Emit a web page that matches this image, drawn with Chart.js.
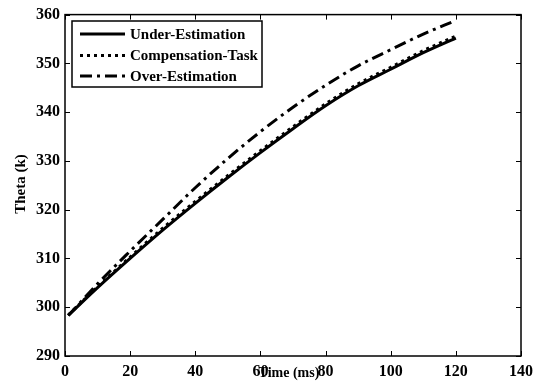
<!DOCTYPE html>
<html>
<head>
<meta charset="utf-8">
<script src="https://cdn.jsdelivr.net/npm/chart.js@4.4.1/dist/chart.umd.min.js"></script>
<style>
  html, body { margin: 0; padding: 0; background: #fff; }
  #wrap { width: 539px; height: 385px; position: relative; }
</style>
</head>
<body>
<div id="wrap"><canvas id="chart"></canvas></div>
<script>
// Données
const timeMs = [1, 10, 20, 30, 40, 50, 60, 70, 80, 90, 100, 110, 120];
const underEst = [298.3, 304.0, 310.0, 315.8, 321.3, 326.6, 331.7, 336.6, 341.3, 345.4, 348.8, 352.2, 355.2];
const compTask = [298.4, 304.2, 310.3, 316.2, 321.7, 327.0, 332.1, 337.0, 341.7, 345.8, 349.2, 352.6, 355.6];
const overEst  = [298.3, 304.8, 311.5, 318.0, 324.5, 330.5, 336.0, 341.0, 345.5, 349.5, 352.8, 356.0, 358.8];
const xTicks = [0, 20, 40, 60, 80, 100, 120, 140];
const yTicks = [290, 300, 310, 320, 330, 340, 350, 360];
const seriesNames = ['Under-Estimation', 'Compensation-Task', 'Over-Estimation'];

const FONT = 'Liberation Serif';

function toPoints(ys) {
    return timeMs.map((t, i) => ({ x: t, y: ys[i] }));
}

// Cadre, graduations intérieures, titres d'axes et légende façon MATLAB
const matlabFrame = {
    id: 'matlabFrame',
    afterDraw(chart) {
        const { ctx, chartArea: a, scales } = chart;
        const xs = scales.x, ys = scales.y;
        ctx.save();
        ctx.strokeStyle = '#000';
        ctx.lineWidth = 1.5;
        ctx.strokeRect(a.left, a.top, a.right - a.left, a.bottom - a.top);

        const tl = 5;
        ctx.lineWidth = 1;
        ctx.beginPath();
        xTicks.forEach(v => {
            const px = Math.round(xs.getPixelForValue(v)) + 0.5;
            ctx.moveTo(px, a.bottom); ctx.lineTo(px, a.bottom - tl);
            ctx.moveTo(px, a.top); ctx.lineTo(px, a.top + tl);
        });
        yTicks.forEach(v => {
            const py = Math.round(ys.getPixelForValue(v)) + 0.5;
            ctx.moveTo(a.left, py); ctx.lineTo(a.left + tl, py);
            ctx.moveTo(a.right, py); ctx.lineTo(a.right - tl, py);
        });
        ctx.stroke();

        // Titres des axes
        ctx.fillStyle = '#000';
        ctx.font = 'bold 14px "' + FONT + '"';
        ctx.textAlign = 'center';
        ctx.textBaseline = 'middle';
        ctx.fillText('Time (ms)', 289, 373);
        ctx.save();
        ctx.translate(21, 184);
        ctx.rotate(-Math.PI / 2);
        ctx.font = 'bold 15px "' + FONT + '"';
        ctx.fillText('Theta (k)', 0, 0);
        ctx.restore();

        // Légende encadrée en haut à gauche
        const bx = 72, by = 21, bw = 190, bh = 66;
        ctx.fillStyle = '#fff';
        ctx.fillRect(bx, by, bw, bh);
        ctx.lineWidth = 1.5;
        ctx.strokeRect(bx, by, bw, bh);
        const rows = [34, 55.5, 76];
        ctx.font = 'bold 15px "' + FONT + '"';
        ctx.textAlign = 'left';
        chart.data.datasets.forEach((ds, i) => {
            ctx.beginPath();
            ctx.setLineDash(ds.borderDash || []);
            ctx.lineWidth = 3;
            ctx.moveTo(80, rows[i]);
            ctx.lineTo(125, rows[i]);
            ctx.stroke();
            ctx.setLineDash([]);
            ctx.fillStyle = '#000';
            ctx.fillText(ds.label, 130, rows[i] + 1);
        });
        ctx.restore();
    }
};

new Chart(document.getElementById('chart').getContext('2d'), {
    type: 'line',
    data: {
        datasets: [
            {
                label: seriesNames[0],
                data: toPoints(underEst),
                borderColor: '#000',
                borderWidth: 3,
                borderDash: [],
                order: 3
            },
            {
                label: seriesNames[1],
                data: toPoints(compTask),
                borderColor: '#000',
                borderWidth: 3,
                borderDash: [3, 4],
                order: 2
            },
            {
                label: seriesNames[2],
                data: toPoints(overEst),
                borderColor: '#000',
                borderWidth: 3,
                borderDash: [12, 5, 3, 5],
                order: 1
            }
        ]
    },
    options: {
        responsive: true,
        maintainAspectRatio: false,
        animation: false,
        devicePixelRatio: 1,
        elements: {
            point: { radius: 0 },
            line: { cubicInterpolationMode: 'monotone', fill: false }
        },
        layout: { padding: { left: 0, top: 14, right: 18, bottom: 0 } },
        plugins: {
            legend: { display: false },
            tooltip: { enabled: false }
        },
        scales: {
            x: {
                type: 'linear',
                min: 0,
                max: 140,
                afterBuildTicks: s => { s.ticks = xTicks.map(v => ({ value: v })); },
                afterFit: s => { s.height = 29; },
                grid: { display: false, drawTicks: false },
                border: { display: false },
                ticks: {
                    color: '#000',
                    padding: 6,
                    font: { family: FONT, size: 16, weight: 'bold' }
                }
            },
            y: {
                type: 'linear',
                min: 290,
                max: 360,
                afterBuildTicks: s => { s.ticks = yTicks.map(v => ({ value: v })); },
                afterFit: s => { s.width = 65; },
                grid: { display: false, drawTicks: false },
                border: { display: false },
                ticks: {
                    color: '#000',
                    padding: 5,
                    font: { family: FONT, size: 16, weight: 'bold' }
                }
            }
        }
    },
    plugins: [matlabFrame]
});
</script>
</body>
</html>
